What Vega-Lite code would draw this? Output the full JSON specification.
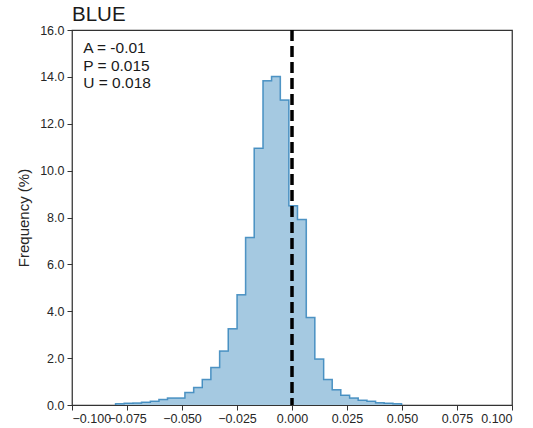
{
  "$schema": "https://vega.github.io/schema/vega-lite/v6.json",
  "width": 440,
  "height": 375,
  "autosize": {"type": "none"},
  "padding": {"left": 72, "top": 30, "right": 21, "bottom": 23},
  "background": "white",
  "title": {"text": "BLUE", "anchor": "start", "frame": "group", "fontSize": 20.5, "fontWeight": "normal", "font": "Liberation Sans", "color": "#1a1a1a", "offset": -1},
  "config": {
    "view": {"stroke": "#333333", "strokeWidth": 1.25},
    "axis": {"labelFont": "Liberation Sans", "titleFont": "Liberation Sans", "labelColor": "#262626", "titleColor": "#262626", "grid": false, "domain": false, "tickColor": "#333333", "tickSize": 5, "tickWidth": 1, "labelFontSize": 12.5, "titleFontSize": 15, "titleFontWeight": "normal", "labelOverlap": false}
  },
  "data": {"values": [
    {"x": -0.0802, "h": 0},
    {"x": -0.0802, "h": 0.05},
    {"x": -0.0763, "h": 0.07},
    {"x": -0.0723, "h": 0.09},
    {"x": -0.0684, "h": 0.115},
    {"x": -0.0644, "h": 0.16},
    {"x": -0.0605, "h": 0.23},
    {"x": -0.0566, "h": 0.30},
    {"x": -0.0526, "h": 0.30},
    {"x": -0.0487, "h": 0.53},
    {"x": -0.0447, "h": 0.75},
    {"x": -0.0408, "h": 1.09},
    {"x": -0.0369, "h": 1.6},
    {"x": -0.0329, "h": 2.3},
    {"x": -0.0290, "h": 3.25},
    {"x": -0.0250, "h": 4.70},
    {"x": -0.0211, "h": 7.15},
    {"x": -0.0172, "h": 10.95},
    {"x": -0.0132, "h": 13.83},
    {"x": -0.0093, "h": 14.02},
    {"x": -0.0053, "h": 13.01},
    {"x": -0.0014, "h": 8.50},
    {"x": 0.0025, "h": 7.91},
    {"x": 0.0065, "h": 3.73},
    {"x": 0.0104, "h": 1.96},
    {"x": 0.0144, "h": 1.09},
    {"x": 0.0183, "h": 0.65},
    {"x": 0.0222, "h": 0.42},
    {"x": 0.0262, "h": 0.30},
    {"x": 0.0301, "h": 0.20},
    {"x": 0.0341, "h": 0.16},
    {"x": 0.0380, "h": 0.10},
    {"x": 0.0419, "h": 0.08},
    {"x": 0.0459, "h": 0.05},
    {"x": 0.0498, "h": 0}
  ]},
  "layer": [
    {
      "mark": {"type": "area", "interpolate": "step-after", "color": "#a5c9e1", "opacity": 1},
      "encoding": {
        "x": {"field": "x", "type": "quantitative", "scale": {"domain": [-0.1, 0.1], "nice": false, "zero": false},
              "axis": {"values": [-0.1, -0.075, -0.05, -0.025, 0, 0.025, 0.05, 0.075, 0.1], "format": ".3f", "title": null, "labelPadding": 2}},
        "y": {"field": "h", "type": "quantitative", "scale": {"domain": [0, 16], "nice": false},
              "axis": {"values": [0, 2, 4, 6, 8, 10, 12, 14, 16], "format": ".1f", "title": "Frequency (%)", "labelPadding": 3, "titlePadding": 8}},
        "order": {"value": null}
      }
    },
    {
      "mark": {"type": "line", "interpolate": "step-after", "color": "#1f77b4", "opacity": 0.75, "strokeWidth": 1.5},
      "encoding": {
        "x": {"field": "x", "type": "quantitative"},
        "y": {"field": "h", "type": "quantitative"},
        "order": {"value": null}
      }
    },
    {
      "data": {"values": [{}]},
      "mark": {"type": "rule", "color": "black", "strokeWidth": 3.5, "strokeDash": [11, 5]},
      "encoding": {"x": {"datum": 0}}
    },
    {
      "data": {"values": [{}]},
      "mark": {"type": "text", "align": "left", "baseline": "alphabetic", "fontSize": 15.5, "lineHeight": 17.5, "font": "Liberation Sans", "color": "#1a1a1a"},
      "encoding": {
        "x": {"datum": -0.0949},
        "y": {"datum": 15.0},
        "text": {"value": ["A = -0.01", "P = 0.015", "U = 0.018"]}
      }
    }
  ]
}
